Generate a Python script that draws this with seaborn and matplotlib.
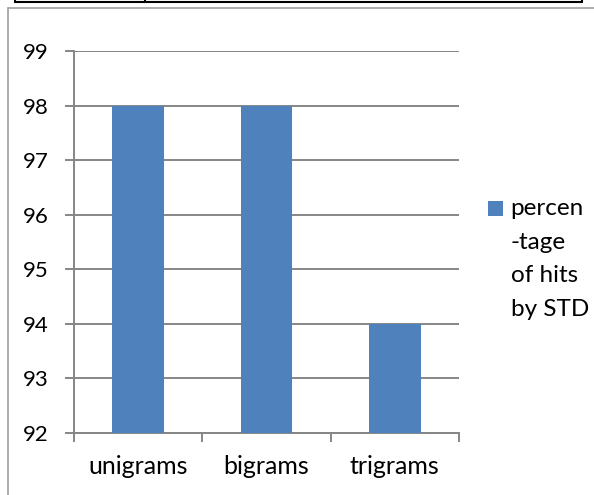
import matplotlib
matplotlib.use("Agg")
import matplotlib.pyplot as plt
import seaborn as sns
import pandas as pd
from matplotlib.legend_handler import HandlerPatch
from matplotlib.patches import Rectangle
from matplotlib.lines import Line2D

# ---- data ----
categories = ["unigrams", "bigrams", "trigrams"]
values = [98, 98, 94]
series_label = "percen\n-tage\nof hits\nby STD"
y_ticks = [92, 93, 94, 95, 96, 97, 98, 99]

BAR = "#4F81BD"
GRAY = "#868686"
W, H = 594, 495

sns.set_theme(style="white")
plt.rcParams['font.family'] = ['Lato', 'DejaVu Sans']
plt.rcParams['text.color'] = 'black'

fig = plt.figure(figsize=(W / 100, H / 100), dpi=100)
fig.patch.set_facecolor("white")

def fx(px):
    return px / W

def fy(py):
    return 1 - py / H

ax = fig.add_axes([fx(74), fy(433), fx(459) - fx(74), fy(51) - fy(433)])
df = pd.DataFrame({"category": categories, "value": values})
sns.barplot(data=df, x="category", y="value", color=BAR, saturation=1,
            width=0.405, ax=ax, label=series_label, zorder=3, linewidth=0)
if ax.get_legend() is not None:
    ax.get_legend().remove()

ax.set_ylim(92, 99)
ax.set_xlim(-0.5, 2.5)
ax.set_yticks(y_ticks)
ax.set_xlabel("")
ax.set_ylabel("")
ax.set_axisbelow(True)
ax.yaxis.grid(True, color=GRAY, lw=1.4)
ax.xaxis.grid(False)

for s in ["top", "right"]:
    ax.spines[s].set_visible(False)
for s in ["left", "bottom"]:
    ax.spines[s].set_color(GRAY)
    ax.spines[s].set_linewidth(1.4)

ax.tick_params(axis="y", which="major", left=True, length=6.5, width=1.4,
               color=GRAY, pad=11.5, labelsize=16, labelcolor="black")
ax.tick_params(axis="x", which="major", bottom=True, length=0, pad=15.5,
               labelsize=18, labelcolor="black")
ax.set_xticks([-0.5, 0.5, 1.5, 2.5], minor=True)
ax.tick_params(axis="x", which="minor", bottom=True, length=6.5, width=1.4,
               color=GRAY, direction="out")

# legend with square marker aligned to first line
def square(legend, orig_handle, xdescent, ydescent, width, height, fontsize):
    s = 11
    return Rectangle((-xdescent, -ydescent + height + 11 - s), s, s)

def upd(legend_handle, orig_handle):
    legend_handle.set_facecolor(orig_handle.patches[0].get_facecolor())
    legend_handle.set_edgecolor("none")

handles, labels = ax.get_legend_handles_labels()
leg = fig.legend(handles[:1], labels[:1], loc="upper left",
                 bbox_to_anchor=(fx(488), fy(198)), bbox_transform=fig.transFigure,
                 frameon=False, fontsize=17.5, handlelength=0.65, handleheight=5.4,
                 handletextpad=0.28, borderpad=0, borderaxespad=0,
                 handler_map={type(handles[0]): HandlerPatch(patch_func=square, update_func=upd)})
for t in leg.get_texts():
    t.set_linespacing(1.74)
    t.set_multialignment("left")

# surrounding document decorations (table strip and chart frame)
def fline(x0, y0, x1, y1, color, lw):
    fig.add_artist(Line2D([fx(x0), fx(x1)], [fy(y0), fy(y1)],
                          transform=fig.transFigure, color=color, lw=lw))

fline(15, 2, 582, 2, "black", 1.5)
fline(15, 0, 15, 2, "black", 1.5)
fline(145, 0, 145, 2, "black", 1.5)
fline(582, 0, 582, 2, "black", 1.5)
fline(7.5, 7.5, 594, 7.5, "#A0A0A0", 1.2)
fline(7.5, 7.5, 7.5, 495, "#A0A0A0", 1.2)

fig.savefig("out.png", dpi=100, facecolor="white")
